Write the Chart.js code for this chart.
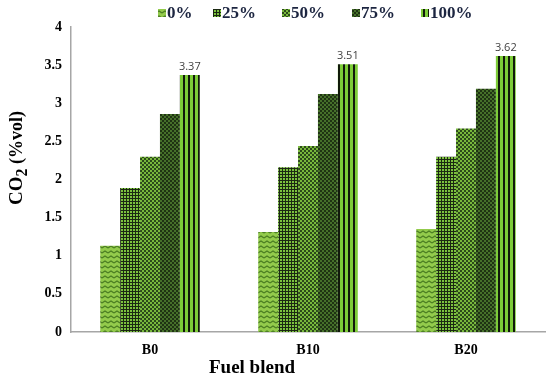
<!DOCTYPE html>
<html><head><meta charset="utf-8">
<script src="https://cdn.jsdelivr.net/npm/chart.js@4"></script>
<style>html,body{margin:0;padding:0;background:#fff}#wrap{width:550px;height:380px}</style>
</head><body><div id="wrap"><canvas id="c" width="550" height="380"></canvas></div>
<script>
const categories = ["B0", "B10", "B20"];
const seriesNames = ["0%", "25%", "50%", "75%", "100%"];
const s0 = [1.13, 1.31, 1.35];
const s25 = [1.89, 2.16, 2.30];
const s50 = [2.30, 2.44, 2.67];
const s75 = [2.86, 3.12, 3.19];
const s100 = [3.37, 3.51, 3.62];
const yTicks = [0, 0.5, 1, 1.5, 2, 2.5, 3, 3.5, 4];
const serif = "'Liberation Serif', 'Times New Roman', serif";

function mk(w, h, draw) {
  const cv = document.createElement('canvas'); cv.width = w; cv.height = h;
  const g = cv.getContext('2d'); draw(g);
  return document.getElementById('c').getContext('2d').createPattern(cv, 'repeat');
}
const pat0 = mk(6, 5, g => {
  g.fillStyle = '#93cb4c'; g.fillRect(0,0,6,5);
  g.strokeStyle = '#4b7d22'; g.lineWidth = 1.2;
  g.beginPath(); g.moveTo(0,3); g.lineTo(3,1); g.lineTo(6,3); g.stroke();
});
const pat25 = mk(3, 3, g => {
  g.fillStyle = '#1b2812'; g.fillRect(0,0,3,3);
  g.fillStyle = '#7cc23e'; g.fillRect(1,1,2,2);
});
const pat50 = mk(4, 4, g => {
  g.fillStyle = '#2c4a1a'; g.fillRect(0,0,4,4);
  g.fillStyle = '#78b83c'; g.fillRect(0,0,2,2); g.fillRect(2,2,2,2);
});
const pat75 = mk(4, 4, g => {
  g.fillStyle = '#1f3313'; g.fillRect(0,0,4,4);
  g.fillStyle = '#46702a'; g.fillRect(0,0,2,2); g.fillRect(2,2,2,2);
});
const pat100 = mk(5, 4, g => {
  g.fillStyle = '#7dcc38'; g.fillRect(0,0,5,4);
  g.fillStyle = '#111a0a'; g.fillRect(3,0,2,4);
});
const patterns = [pat0, pat25, pat50, pat75, pat100];
const values = [s0, s25, s50, s75, s100];

const overlay = {
  id: 'overlay',
  afterDraw(chart) {
    const ctx = chart.ctx;
    ctx.save();
    // data labels on 100% series
    const meta = chart.getDatasetMeta(4);
    ctx.font = "11px 'Open Sans', 'DejaVu Sans', sans-serif";
    ctx.fillStyle = '#404040'; ctx.textAlign = 'center'; ctx.textBaseline = 'bottom';
    meta.data.forEach((el, i) => ctx.fillText(s100[i].toFixed(2), el.x, el.y - 3));
    // legend
    ctx.font = "bold 17px " + serif; ctx.textBaseline = 'middle'; ctx.textAlign = 'left';
    const lx = [158, 213, 282, 352, 421]; const y = 13;
    chart.data.datasets.forEach((ds, i) => {
      const x = lx[i];
      ctx.fillStyle = ds.backgroundColor; ctx.fillRect(x, y - 4, 8, 8);
      ctx.fillStyle = '#1c2540';
      ctx.fillText(ds.label, x + 9, y + 1);
    });
    // x title
    ctx.fillStyle = '#000'; ctx.textAlign = 'center'; ctx.textBaseline = 'middle';
    ctx.font = "bold 19px " + serif;
    ctx.fillText('Fuel blend', 252, 368);
    // y title with subscript
    ctx.translate(17, 158); ctx.rotate(-Math.PI / 2);
    const a = 'CO', b = '2', c = ' (%vol)';
    ctx.font = "bold 19px " + serif; const wa = ctx.measureText(a).width;
    ctx.font = "bold 16px " + serif; const wb = ctx.measureText(b).width;
    ctx.font = "bold 18px " + serif; const wc = ctx.measureText(c).width;
    let tx = -(wa + wb + wc) / 2;
    ctx.textAlign = 'left';
    ctx.font = "bold 19px " + serif; ctx.fillText(a, tx, 0); tx += wa;
    ctx.font = "bold 16px " + serif; ctx.fillText(b, tx, 6); tx += wb;
    ctx.font = "bold 18px " + serif; ctx.fillText(c, tx, 0);
    ctx.restore();
  }
};

new Chart(document.getElementById('c'), {
  type: 'bar',
  data: {
    labels: categories,
    datasets: seriesNames.map((n, i) => ({
      label: n, data: values[i], backgroundColor: patterns[i],
      borderWidth: 0, barPercentage: 1, categoryPercentage: 0.63
    }))
  },
  options: {
    responsive: false, animation: false,
    layout: { padding: { left: 0, right: 5, top: 27, bottom: 0 } },
    plugins: { legend: { display: false }, tooltip: { enabled: false } },
    scales: {
      x: {
        grid: { display: false, drawTicks: false },
        border: { color: '#a6a6a6', width: 1.5 },
        ticks: { color: '#000', font: { family: serif, size: 14, weight: 'bold' }, padding: 10 },
        afterFit(s) { s.height = 48; }
      },
      y: {
        min: 0, max: 4,
        afterBuildTicks(s) { s.ticks = yTicks.map(v => ({ value: v })); },
        grid: { display: false, drawOnChartArea: false, drawTicks: true, tickLength: 5, color: '#a6a6a6' },
        border: { color: '#a6a6a6', width: 1.5 },
        ticks: { color: '#000', font: { family: serif, size: 14, weight: 'bold' }, padding: 4,
          callback: v => String(v) },
        afterFit(s) { s.width = 71; }
      }
    }
  },
  plugins: [overlay]
});
</script>
</body></html>
